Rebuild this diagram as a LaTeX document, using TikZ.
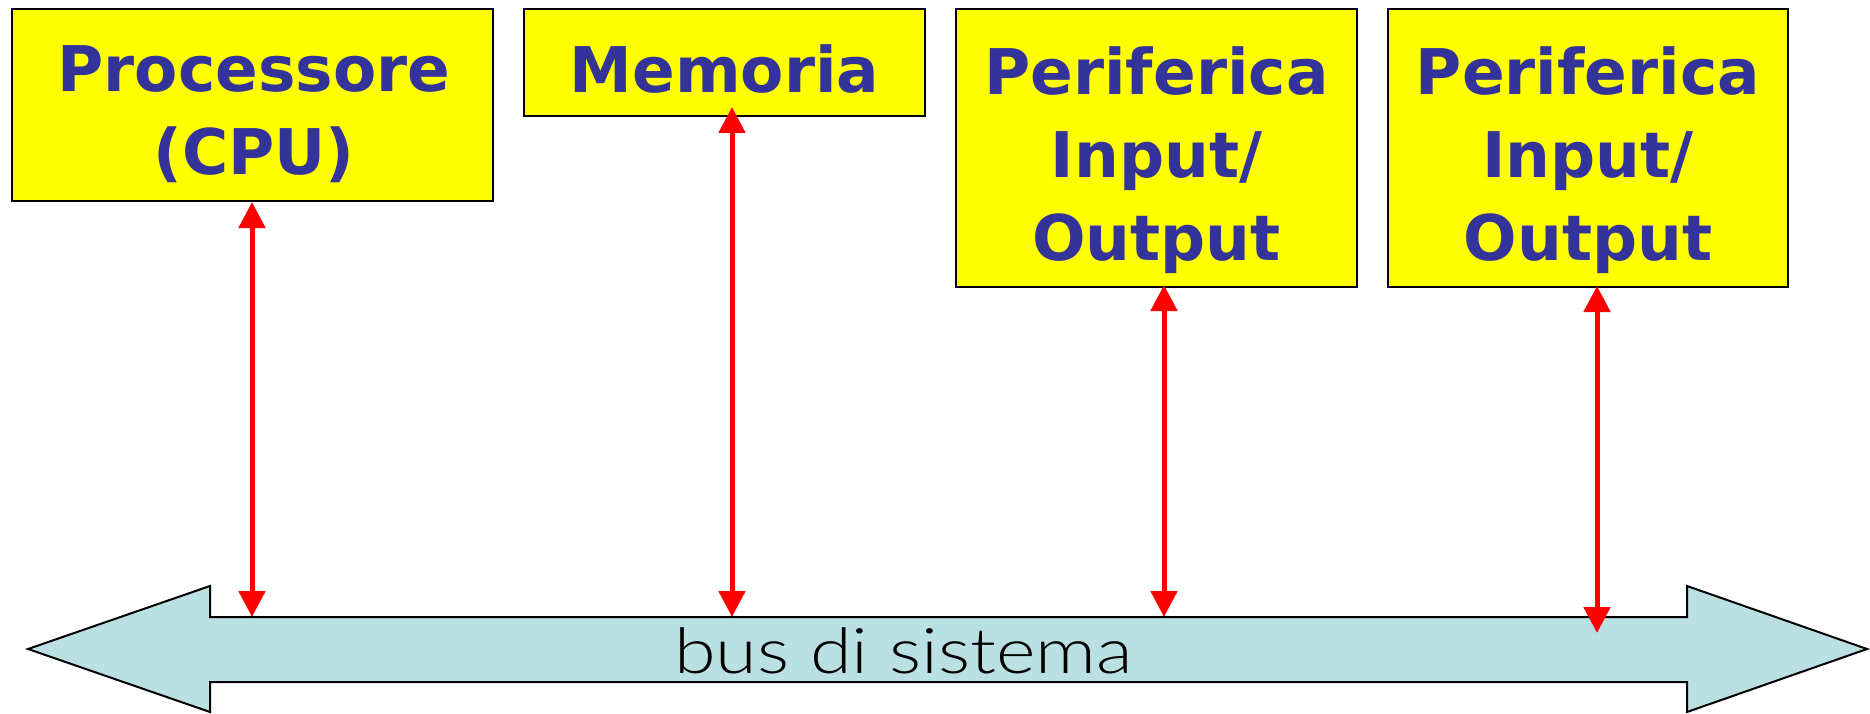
\documentclass[tikz,border=0pt]{standalone}
\usepackage{fontspec}
\setmainfont{DejaVu Sans}
\newfontfamily\busfont{Lato Light}[FakeStretch=1.2]
\usetikzlibrary{arrows.meta}
\definecolor{boxblue}{RGB}{51,51,153}
\definecolor{busfill}{RGB}{187,224,227}
\definecolor{boxyellow}{RGB}{255,255,0}
\definecolor{connred}{RGB}{255,0,0}
\tikzset{
  unitbox/.style={draw=black, line width=2pt, fill=boxyellow, inner sep=0pt},
  lbl/.style={text=boxblue, font=\fontsize{63}{83}\selectfont\bfseries, align=center, inner sep=0pt},
  conn/.style={draw=connred, line width=5pt, {Triangle[width=26pt,length=26pt]}-{Triangle[width=26pt,length=26pt]}},
  busshape/.style={draw=black, line width=2pt, fill=busfill, line join=miter},
  buslbl/.style={font=\busfont\fontsize{63}{70}\selectfont, inner sep=0pt, text=black}
}
\begin{document}
\begin{tikzpicture}[x=1pt,y=-1pt]
\useasboundingbox (0,0) rectangle (1870,714);
% boxes
\node[unitbox, minimum width=481pt, minimum height=192pt] (cpu) at (252.5,105) {};
\node[unitbox, minimum width=401pt, minimum height=107pt] (mem) at (724.5,62.5) {};
\node[unitbox, minimum width=401pt, minimum height=278pt] (io1) at (1156.5,148) {};
\node[unitbox, minimum width=400pt, minimum height=278pt] (io2) at (1588,148) {};
\node[lbl, anchor=base] (cput) at (254,175) {Processore\\(CPU)};
\node[lbl, anchor=base] (memt) at (724.5,93) {Memoria};
\node[lbl, anchor=base] (io1t) at (1156.5,260) {Periferica\\Input/\\Output};
\node[lbl, anchor=base] (io2t) at (1588,260) {Periferica\\Input/\\Output};
% bus
\draw[busshape] (28,649) -- (210,586) -- (210,617) -- (1687,617) -- (1687,586) -- (1867,649)
  -- (1687,712) -- (1687,682) -- (210,682) -- (210,712) -- cycle;
\node[buslbl, anchor=base] (bust) at (903.5,673) {bus di sistema};
\coordinate (b1) at (252,617);
\coordinate (b2) at (732,617);
\coordinate (b3) at (1164,617);
\coordinate (b4) at (1597,633);
% connectors
\draw[conn] (cpu.south -| b1) -- (b1);
\draw[conn, shorten <=-10pt] (mem.south -| b2) -- (b2);
\draw[conn, shorten <=-3pt] (io1.south -| b3) -- (b3);
\draw[conn, shorten <=-2pt] (io2.south -| b4) -- (b4);
\end{tikzpicture}
\end{document}
